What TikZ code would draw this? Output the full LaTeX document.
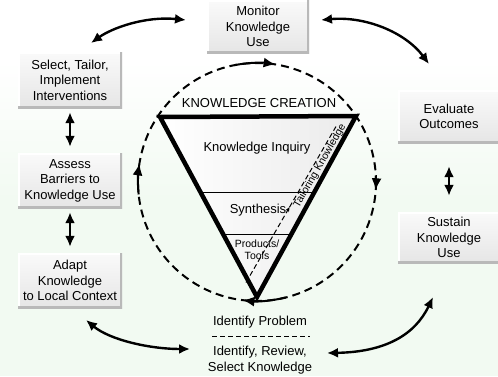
\documentclass[tikz,border=0pt]{standalone}
\usepackage{fontspec}
\setmainfont{Liberation Sans}
\usetikzlibrary{arrows.meta}
\definecolor{bggreen}{RGB}{242,250,242}
\tikzset{
  box/.style={minimum width=104pt, minimum height=55pt, inner sep=2pt, align=center,
    font=\fontsize{13}{15.5}\selectfont, top color=gray!4, bottom color=gray!20,
    path picture={
      \draw[white,line width=3pt] (path picture bounding box.south west) -- (path picture bounding box.north west) -- (path picture bounding box.north east);
      \draw[gray!55,line width=5pt] (path picture bounding box.south west) -- (path picture bounding box.south east) -- (path picture bounding box.north east);
    }},
  conn/.style={line width=2.4pt, {Latex[length=11pt,width=10pt]}-{Latex[length=11pt,width=10pt]}},
  dcirc/.style={line width=2pt, dash pattern=on 8pt off 5pt},
  carr/.style={line width=2pt, -{Latex[length=12pt,width=10pt]}},
  txt/.style={font=\fontsize{13}{15.5}\selectfont, inner sep=1pt},
  tline/.style={line width=1pt, dash pattern=on 5pt off 3pt}
}
\begin{document}
\begin{tikzpicture}[x=1pt,y=-1pt]
\useasboundingbox (0,0) rectangle (498,376);
\fill[white] (0,0) rectangle (498,376);
\shade[top color=white, bottom color=bggreen] (0,60) rectangle (498,200);
\fill[bggreen] (0,200) rectangle (498,376);

% boxes
\node[box, minimum width=102pt, minimum height=53pt] (mon) at (258,26.5) {Monitor\\Knowledge\\Use};
\node[box, minimum height=56pt] (sel) at (70,80) {Select, Tailor,\\Implement\\Interventions};
\node[box] (ass) at (70,180.5) {Assess\\Barriers to\\Knowledge Use};
\node[box] (ada) at (70,280.5) {Adapt\\Knowledge\\to Local Context};
\node[box, minimum width=102pt, minimum height=53pt] (eva) at (449,116.5) {Evaluate\\Outcomes};
\node[box, minimum width=102pt, minimum height=51pt] (sus) at (449,237.5) {Sustain\\Knowledge\\Use};

% dashed cycle
\coordinate (cc) at (257,182);
\draw[dcirc] (cc) circle[radius=119];
\draw[carr] (cc) ++(-101:119) arc[start angle=-101, end angle=-81, radius=119];
\draw[carr] (cc) ++(-3:119) arc[start angle=-3, end angle=4, radius=119];
\draw[carr] (cc) ++(76:119) arc[start angle=76, end angle=97, radius=119];
\draw[carr] (cc) ++(174:119) arc[start angle=174, end angle=189, radius=119];

% triangle
\coordinate (tA) at (160,117);
\coordinate (tB) at (356,116);
\coordinate (tC) at (257,297);
\shade[left color=white, right color=gray!16] (tA) -- (tB) -- (tC) -- cycle;
\begin{scope}
  \clip (tA) -- (tB) -- (tC) -- cycle;
  \draw[line width=1pt] (150,192) -- (370,192);
  \draw[line width=1pt] (150,234) -- (370,234);
\end{scope}
\draw[line width=4.5pt, line join=miter] (tA) -- (tB) -- (tC) -- cycle;

\node[txt] (kc) at (259,103) {KNOWLEDGE CREATION};
\node[txt] (ki) at (257,148) {Knowledge Inquiry};
\node[txt] (syn) at (258,210) {Synthesis};
\node[font=\fontsize{10.5}{12}\selectfont, align=center, inner sep=1pt] (pt) at (257,250) {Products/\\Tools};

% tailoring knowledge
\coordinate (tlA) at (246,282.5);
\coordinate (tlM) at (289.6,207);
\coordinate (tlB) at (336,126.5);
\draw[tline, -{Stealth[length=5pt,width=4pt]}] (tlA) -- (tlM);
\draw[tline] (tlM) -- (tlB);
\node[font=\fontsize{10.5}{12}\selectfont, rotate=60, inner sep=0pt] (tk) at (320,166) {Tailoring Knowledge};

% identify
\node[txt] (ip) at (260,322) {Identify Problem};
\coordinate (dl1) at (212,336);
\coordinate (dl2) at (310,336);
\draw[line width=0.9pt, dash pattern=on 5pt off 3pt] (dl1) -- (dl2);
\node[txt, align=center] (ir) at (260,360) {Identify, Review,\\Select Knowledge};

% connectors
\coordinate (c1a) at (91,43);
\coordinate (c1b) at (186,20);
\draw[conn] (c1a) .. controls (112,28) and (145,16) .. (c1b);
\coordinate (c2a) at (321,20);
\coordinate (c2b) at (429,64);
\draw[conn] (c2a) .. controls (365,16) and (405,32) .. (c2b);
\draw[conn] ([yshift=-4pt]sel.south) -- ([yshift=6pt]ass.north);
\draw[conn] ([yshift=-4pt]ass.south) -- ([yshift=6pt]ada.north);
\draw[conn] ([yshift=-23pt]eva.south) -- ([yshift=16pt]sus.north);
\coordinate (c6a) at (86,320);
\coordinate (c6b) at (190,349);
\draw[conn] (c6a) .. controls (110,340) and (150,349) .. (c6b);
\coordinate (c7a) at (327,353);
\coordinate (c7b) at (433,297);
\draw[conn] (c7a) .. controls (385,352) and (415,335) .. (c7b);
\end{tikzpicture}
\end{document}
